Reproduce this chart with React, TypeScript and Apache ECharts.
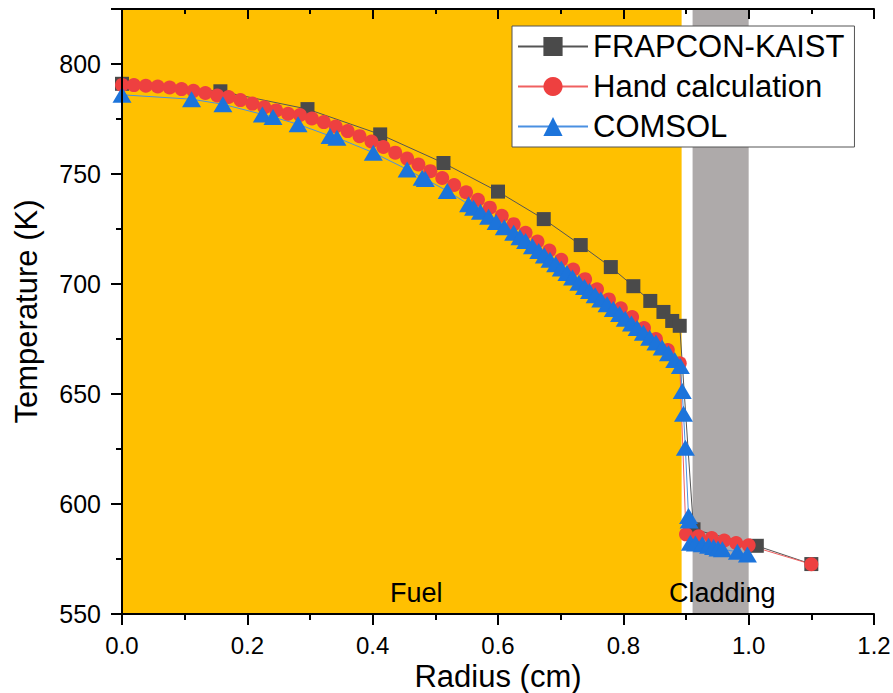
import React, { useEffect, useRef } from "react";
import * as echarts from "echarts";

const frapR = [0, 0.157, 0.296, 0.412, 0.513, 0.6, 0.673, 0.732, 0.78, 0.816, 0.843, 0.864, 0.878, 0.89, 0.912, 1.013, 1.1];
const frapT = [791, 787.6, 779.5, 768, 755, 742, 729.5, 717.7, 707.7, 699, 692.3, 687.3, 683.2, 681, 588.5, 581, 572.7];

const handR = [
  0, 0.019, 0.038, 0.057, 0.076, 0.095, 0.114, 0.133, 0.152, 0.17, 0.189, 0.208, 0.227, 0.246, 0.265, 0.284,
  0.303, 0.322, 0.341, 0.36, 0.379, 0.398, 0.417, 0.436, 0.455, 0.473, 0.492, 0.511, 0.53, 0.549, 0.568, 0.587,
  0.606, 0.625, 0.644, 0.663, 0.682, 0.701, 0.72, 0.739, 0.758, 0.777, 0.796, 0.814, 0.833, 0.852, 0.871, 0.89,
  0.9, 0.92, 0.941, 0.961, 0.98, 1.0, 1.1,
];
const handT = [
  790.5, 790.4, 790.1, 789.8, 789.3, 788.6, 787.8, 786.8, 785.7, 785.0, 783.6, 782.0, 780.3, 778.9, 777.4, 776.8,
  775.2, 773.6, 771.6, 769.5, 767.2, 764.8, 762.3, 759.7, 757.0, 754.3, 751.3, 748.2, 745.0, 741.7, 738.3, 734.7,
  731.0, 727.2, 723.3, 719.3, 715.2, 711.0, 706.6, 702.2, 697.6, 693.0, 689.0, 685.0, 680.0, 675.0, 670.0, 664.0,
  586.2, 585.3, 584.5, 583.4, 582.3, 581.2, 572.6,
];

const comsolR = [
  0, 0.111, 0.161, 0.224, 0.241, 0.281, 0.332, 0.343, 0.401, 0.455, 0.479, 0.484, 0.519, 0.553, 0.561, 0.572,
  0.585, 0.597, 0.61, 0.625, 0.635, 0.644, 0.655, 0.665, 0.674, 0.683, 0.692, 0.701, 0.71, 0.719, 0.729, 0.738,
  0.746, 0.755, 0.764, 0.774, 0.784, 0.794, 0.803, 0.813, 0.822, 0.832, 0.842, 0.852, 0.862, 0.872, 0.882, 0.891,
  0.894, 0.896, 0.899, 0.904, 0.905, 0.907, 0.915, 0.926, 0.936, 0.944, 0.951, 0.958, 0.982, 0.998,
];
const comsolT = [
  786.0, 784.0, 781.7, 777.1, 775.9, 772.6, 767.3, 766.5, 759.7, 752.1, 748.3, 747.7, 742.3, 736.2, 734.7, 732.8,
  730.6, 728.2, 725.8, 723.3, 721.3, 719.5, 717.2, 715.0, 713.0, 711.0, 709.0, 707.0, 705.0, 703.0, 700.6, 698.6,
  696.8, 694.9, 693.0, 690.8, 688.6, 686.4, 684.2, 682.0, 680.0, 677.8, 675.6, 673.4, 671.1, 668.5, 665.5, 662.7,
  651.4, 641.0, 625.6, 594.5, 592.5, 582.4, 582.0, 581.7, 581.0, 580.4, 579.8, 579.4, 578.3, 577.1,
];

const xTicks = [0, 0.2, 0.4, 0.6, 0.8, 1.0, 1.2];
const yTicks = [550, 600, 650, 700, 750, 800];
const fuelRange = [0, 0.893];
const claddingRange = [0.9105, 1.0];

const FONT = "Arial, 'Liberation Sans', sans-serif";

function zip(a: number[], b: number[]) {
  return a.map((v, i) => [v, b[i]]);
}

export default function App() {
  const ref = useRef<HTMLDivElement>(null);
  useEffect(() => {
    if (!ref.current) return;
    const chart = echarts.init(ref.current, undefined, { renderer: "svg" });
    const axisLine = { show: true, lineStyle: { color: "#000", width: 2 } };
    const option: any = {
      animation: false,
      backgroundColor: "#fff",
      grid: { left: 122, right: 19, top: 9, bottom: 79, containLabel: false, outerBoundsMode: "none" },
      legend: {
        orient: "vertical",
        left: 512,
        top: 26,
        padding: [5, 10, 5, 5],
        itemGap: 9,
        itemWidth: 70,
        itemHeight: 24,
        backgroundColor: "#fff",
        borderColor: "#555",
        borderWidth: 1,
        borderRadius: 0,
        textStyle: { fontFamily: FONT, fontSize: 31, color: "#000", lineHeight: 30 },
        data: ["FRAPCON-KAIST", "Hand calculation", "COMSOL"],
      },
      xAxis: [
        {
          type: "value",
          min: 0,
          max: 1.2,
          interval: 0.2,
          position: "bottom",
          z: 10,
          name: "Radius (cm)",
          nameLocation: "middle",
          nameGap: 47,
          nameMoveOverlap: false,
          nameTextStyle: { fontFamily: FONT, fontSize: 31, color: "#000" },
          axisLine,
          axisTick: { show: true, inside: false, length: 11, lineStyle: { color: "#000", width: 2 } },
          minorTick: { show: true, splitNumber: 2, length: 6, lineStyle: { color: "#000", width: 2 } },
          splitLine: { show: false },
          axisLabel: {
            margin: 19,
            fontFamily: FONT,
            fontSize: 24,
            color: "#000",
            formatter: (v: number) => (xTicks.includes(Math.round(v * 10) / 10) ? v.toFixed(1) : ""),
          },
        },
        {
          type: "value",
          min: 0,
          max: 1.2,
          interval: 0.2,
          position: "top",
          z: 10,
          axisLine,
          axisTick: { show: true, inside: true, length: 10, lineStyle: { color: "#000", width: 2 } },
          minorTick: { show: true, splitNumber: 2, length: 5, lineStyle: { color: "#000", width: 2 } },
          splitLine: { show: false },
          axisLabel: { show: false },
        },
      ],
      yAxis: [
        {
          type: "value",
          min: 550,
          max: 825,
          interval: 50,
          position: "left",
          z: 10,
          name: "Temperature (K)",
          nameLocation: "middle",
          nameGap: 80,
          nameMoveOverlap: false,
          nameTextStyle: { fontFamily: FONT, fontSize: 31, color: "#000" },
          axisLine,
          axisTick: { show: true, inside: false, length: 11, lineStyle: { color: "#000", width: 2 } },
          minorTick: { show: true, splitNumber: 2, length: 6, lineStyle: { color: "#000", width: 2 } },
          splitLine: { show: false },
          axisLabel: {
            margin: 21,
            fontFamily: FONT,
            fontSize: 25,
            color: "#000",
            formatter: (v: number) => (yTicks.includes(v) ? String(v) : ""),
          },
        },
        {
          type: "value",
          min: 550,
          max: 825,
          interval: 50,
          position: "right",
          z: 10,
          axisLine,
          axisTick: { show: true, inside: true, length: 11, lineStyle: { color: "#000", width: 2 } },
          minorTick: { show: true, splitNumber: 2, length: 6, lineStyle: { color: "#000", width: 2 } },
          splitLine: { show: false },
          axisLabel: { show: false },
        },
      ],
      series: [
        {
          name: "FRAPCON-KAIST",
          type: "line",
          xAxisIndex: 0,
          yAxisIndex: 0,
          data: zip(frapR, frapT),
          symbol: "rect",
          symbolSize: 14,
          color: "#4a4a4a",
          itemStyle: { color: "#4a4a4a" },
          lineStyle: { color: "#555", width: 1 },
          markArea: {
            silent: true,
            z: 0,
            data: [
              [
                { xAxis: fuelRange[0], itemStyle: { color: "#FFC000" } },
                { xAxis: fuelRange[1] },
              ],
              [
                { xAxis: claddingRange[0], itemStyle: { color: "#AEAAAA" } },
                { xAxis: claddingRange[1] },
              ],
            ],
          },
        },
        {
          name: "Hand calculation",
          type: "line",
          xAxisIndex: 0,
          yAxisIndex: 0,
          data: zip(handR, handT),
          symbol: "circle",
          symbolSize: 14,
          color: "#EE4040",
          itemStyle: { color: "#EE4040" },
          lineStyle: { color: "#F06060", width: 1 },
        },
        {
          name: "COMSOL",
          type: "line",
          xAxisIndex: 0,
          yAxisIndex: 0,
          data: zip(comsolR, comsolT),
          symbol: "triangle",
          symbolSize: [19, 16],
          color: "#1C74DB",
          itemStyle: { color: "#1C74DB" },
          lineStyle: { color: "#4A90E2", width: 1 },
        },
      ],
      graphic: [
        {
          type: "text",
          left: 390,
          top: 579,
          z: 20,
          style: { text: "Fuel", fontFamily: FONT, fontSize: 27, fill: "#000" },
        },
        {
          type: "text",
          left: 669,
          top: 579,
          z: 20,
          style: { text: "Cladding", fontFamily: FONT, fontSize: 27, fill: "#000" },
        },
      ],
    };
    chart.setOption(option);
    return () => chart.dispose();
  }, []);
  return (
    <div
      ref={ref}
      style={{ position: "fixed", left: 0, top: 0, width: 893, height: 693 }}
    />
  );
}
